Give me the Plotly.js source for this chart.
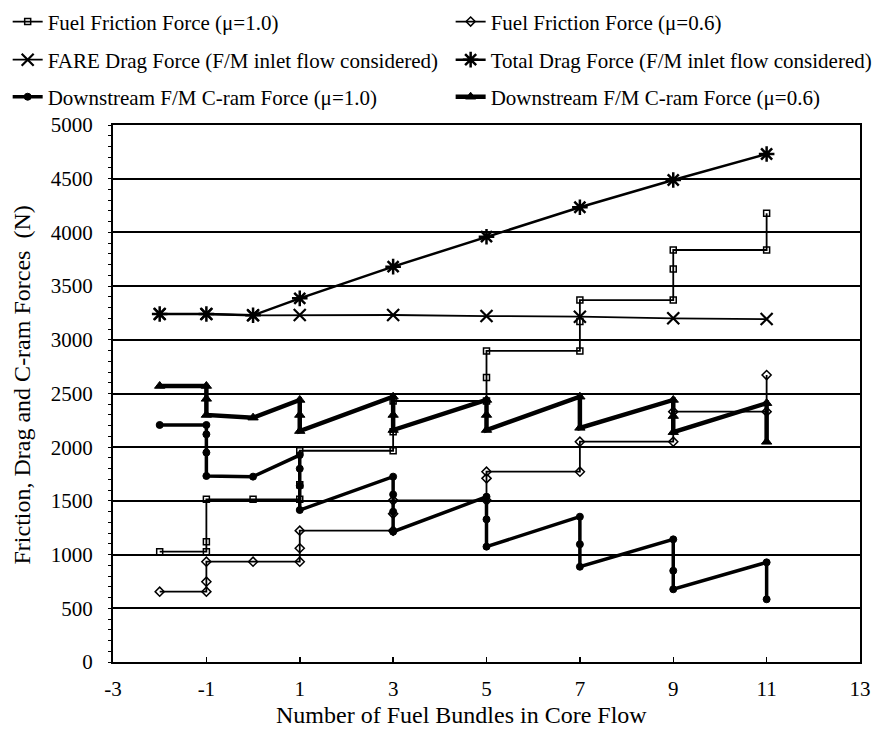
<!DOCTYPE html>
<html>
<head>
<meta charset="utf-8">
<script src="https://cdn.plot.ly/plotly-3.0.1.min.js"></script>
<style>html,body{margin:0;padding:0;background:#fff;}#chart{width:877px;height:731px;}</style>
</head>
<body>
<div id="chart"></div>
<script>
// ---- data ----
var seriesNames = [
  "Fuel Friction Force (\u03bc=1.0)",
  "Fuel Friction Force (\u03bc=0.6)",
  "FARE Drag Force (F/M inlet flow considered)",
  "Total Drag Force (F/M inlet flow considered)",
  "Downstream F/M C-ram Force (\u03bc=1.0)",
  "Downstream F/M C-ram Force (\u03bc=0.6)"
];
var xTitle = "Number of Fuel Bundles in Core Flow";
var yTitle = "Friction, Drag and C-ram Forces  (N)";

var friction10X = [-2,-1,-1,-1,0,1,1,1,3,3,3,5,5,5,7,7,7,9,9,9,11,11];
var friction10Y = [1027,1027,1120,1515,1515,1515,1650,1967,1967,2144,2430,2430,2650,2896,2896,3170,3370,3370,3659,3836,3836,4178];

var friction06X = [-2,-1,-1,-1,0,1,1,1,3,3,3,5,5,5,7,7,9,9,11,11];
var friction06Y = [655,655,748,934,934,934,1059,1223,1223,1380,1505,1505,1710,1772,1772,2051,2051,2331,2331,2672];

var fareX = [-2,-1,0,1,3,5,7,9,11];
var fareY = [3240,3240,3228,3231,3231,3221,3215,3200,3193];

var totalX = [-2,-1,0,1,3,5,7,9,11];
var totalY = [3240,3240,3228,3386,3681,3960,4234,4488,4730];

var cram10X = [-2,-1,-1,-1,-1,0,1,1,1,1,3,3,3,3,5,5,5,7,7,7,9,9,9,11,11];
var cram10Y = [2207,2207,2120,1950,1732,1726,1927,1800,1640,1415,1726,1560,1400,1213,1539,1328,1074,1353,1096,887,1142,850,677,928,584];

var cram06X = [-2,-1,-1,-1,0,1,1,1,3,3,3,5,5,5,7,7,9,9,9,11,11];
var cram06Y = [2570,2570,2450,2300,2275,2440,2300,2150,2470,2300,2160,2440,2300,2160,2470,2180,2440,2290,2140,2410,2050];

var xTicks = [-3,-1,1,3,5,7,9,11,13];
var yTicks = [0,500,1000,1500,2000,2500,3000,3500,4000,4500,5000];

// ---- styling ----
var FONT = "'Liberation Serif','Times New Roman',serif";
var BLACK = "#000";

function tr(name, x, y, lw, sym, msize, mlw, leg) {
  return {
    type: "scatter", mode: "lines+markers", name: name, x: x, y: y,
    line: {color: BLACK, width: lw},
    marker: {symbol: sym, size: msize, color: BLACK, line: {color: BLACK, width: mlw}},
    legend: leg, cliponaxis: false, hoverinfo: "skip"
  };
}

var data = [
  tr(seriesNames[0], friction10X, friction10Y, 1.8, "square-open", 6, 1.5, "legend"),
  tr(seriesNames[1], friction06X, friction06Y, 1.8, "diamond-open", 7, 1.5, "legend2"),
  tr(seriesNames[2], fareX, fareY, 1.8, "x-thin-open", 12, 2.2, "legend3"),
  tr(seriesNames[3], totalX, totalY, 2.5, "asterisk-open", 13, 2.5, "legend4"),
  tr(seriesNames[4], cram10X, cram10Y, 3.5, "circle", 7, 1, "legend5"),
  tr(seriesNames[5], cram06X, cram06Y, 4.5, "triangle-up", 9, 1, "legend6")
];

function leg(xp, yc) {
  return {
    orientation: "v", x: xp, xanchor: "left", y: yc, yanchor: "middle",
    font: {family: FONT, size: 21, color: BLACK},
    bgcolor: "rgba(0,0,0,0)", borderwidth: 0
  };
}
var c1 = -0.141, c2 = 0.452;
var r1 = 1.192, r2 = 1.121, r3 = 1.052;

var layout = {
  width: 877, height: 731,
  margin: {l: 113, r: 17, t: 125, b: 69, pad: 0, autoexpand: false},
  paper_bgcolor: "#fff", plot_bgcolor: "#fff",
  font: {family: FONT, color: BLACK},
  showlegend: true,
  legend: leg(c1, r1), legend2: leg(c2, r1),
  legend3: leg(c1, r2), legend4: leg(c2, r2),
  legend5: leg(c1, r3), legend6: leg(c2, r3),
  xaxis: {
    range: [-3, 13], tickvals: xTicks, ticktext: xTicks.map(String),
    ticks: "inside", ticklen: 5, tickwidth: 1.5, tickcolor: BLACK,
    showline: true, linecolor: BLACK, linewidth: 2, mirror: true,
    showgrid: false, zeroline: false,
    tickfont: {family: FONT, size: 21, color: BLACK},
    ticklabelstandoff: 7
  },
  yaxis: {
    range: [0, 5000], tickvals: yTicks, ticktext: yTicks.map(String),
    ticks: "outside", ticklen: 2, tickwidth: 1, tickcolor: BLACK,
    minor: {ticks: "outside", dtick: 100, ticklen: 3, tickwidth: 1, tickcolor: BLACK},
    showline: true, linecolor: BLACK, linewidth: 2, mirror: true,
    showgrid: true, gridcolor: BLACK, gridwidth: 2, zeroline: false,
    tickfont: {family: FONT, size: 21, color: BLACK},
    ticklabelstandoff: 12
  },
  annotations: [
    {text: xTitle, xref: "paper", yref: "paper", x: 0.466, y: -0.0708, xanchor: "center", yanchor: "top",
     showarrow: false, font: {family: FONT, size: 24, color: BLACK}},
    {text: yTitle, xref: "paper", yref: "paper", x: -0.122, y: 0.5165, xanchor: "center", yanchor: "middle",
     textangle: -90, showarrow: false, font: {family: FONT, size: 24, color: BLACK}}
  ]
};

Plotly.newPlot("chart", data, layout, {displayModeBar: false, staticPlot: true});
</script>
</body>
</html>
